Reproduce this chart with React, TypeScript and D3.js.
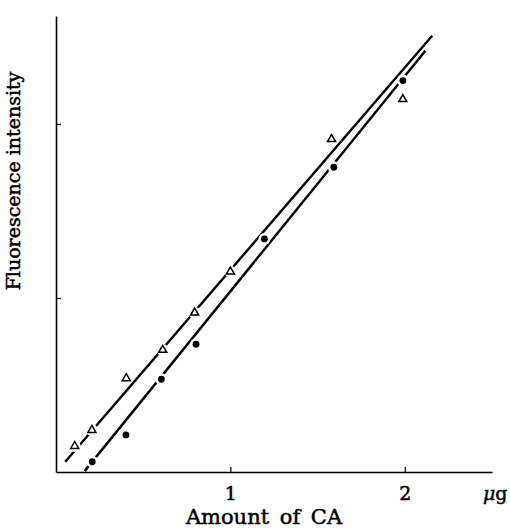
import React, { useRef, useEffect } from 'react';
import * as d3 from 'd3';

// values (x in µg, y in axis units)
const triX = [0.107, 0.206, 0.403, 0.612, 0.795, 1.0, 1.58, 1.989];
const triY = [0.149, 0.241, 0.538, 0.701, 0.915, 1.151, 1.912, 2.142];
const dotX = [0.208, 0.401, 0.604, 0.803, 1.195, 1.593, 1.989];
const dotY = [0.059, 0.213, 0.533, 0.734, 1.339, 1.751, 2.249];
// fitted lines: [start, end] as [x, y]
const triLine: [number, number][] = [[0.053, 0.059], [2.157, 2.506]];
const dotLine: [number, number][] = [[0.164, 0.005], [2.118, 2.42]];
const xTicks = [1, 2];
const yTicks = [1, 2];

const App = () => {
  const svgRef = useRef<SVGSVGElement>(null);

  useEffect(() => {
    const svg = d3.select(svgRef.current);
    svg.selectAll('*').remove();

    const x = d3.scaleLinear().domain([0, 2.5]).range([56, 492]);
    const y = d3.scaleLinear().domain([0, 2.62]).range([472, 16]);

    const font = '"DejaVu Serif", serif';

    // axes
    const xAxis = svg.append('g')
      .attr('transform', `translate(0,${y(0)})`)
      .call(d3.axisBottom(x).tickValues(xTicks).tickSizeInner(-5).tickSizeOuter(0).tickPadding(15).tickFormat(d3.format('d')));
    const yAxis = svg.append('g')
      .attr('transform', `translate(${x(0)},0)`)
      .call(d3.axisLeft(y).tickValues(yTicks).tickSizeInner(-5).tickSizeOuter(0).tickFormat(() => ''));

    [xAxis, yAxis].forEach(a => {
      a.select('.domain').attr('stroke', '#000').attr('stroke-width', 1.6);
      a.selectAll('.tick line').attr('stroke', '#000').attr('stroke-width', 1.2);
      a.selectAll('.tick text')
        .attr('fill', '#000')
        .attr('stroke', '#000')
        .attr('stroke-width', 0.5)
        .attr('font-family', font)
        .attr('font-size', 19);
    });

    const textStyle = (t: any) => t
      .attr('font-family', font)
      .attr('fill', '#000')
      .attr('stroke', '#000')
      .attr('stroke-width', 0.5);

    // unit label
    const unit = svg.append('text')
      .attr('x', 483)
      .attr('y', 500)
      .attr('font-size', 19)
      .call(textStyle);
    unit.append('tspan').attr('font-style', 'italic').text('μ');
    unit.append('tspan').text('g');

    // axis titles
    svg.append('text')
      .attr('x', 264)
      .attr('y', 524)
      .attr('text-anchor', 'middle')
      .attr('font-size', 21)
      .attr('word-spacing', 4)
      .call(textStyle)
      .text('Amount of CA');

    svg.append('text')
      .attr('transform', 'rotate(-90)')
      .attr('x', -181)
      .attr('y', 20)
      .attr('text-anchor', 'middle')
      .attr('font-size', 19)
      .call(textStyle)
      .text('Fluorescence intensity');

    // regression lines
    const line = d3.line<[number, number]>()
      .x(d => x(d[0]))
      .y(d => y(d[1]));

    [triLine, dotLine].forEach(l => {
      svg.append('path')
        .datum(l)
        .attr('fill', 'none')
        .attr('stroke', '#000')
        .attr('stroke-width', 2.4)
        .attr('d', line);
    });

    const tris = triX.map((v, i) => ({ x: v, y: triY[i] }));
    const dots = dotX.map((v, i) => ({ x: v, y: dotY[i] }));

    // white halos break the lines where the points sit
    svg.selectAll('.halo')
      .data([...tris, ...dots])
      .enter().append('circle')
      .attr('cx', d => x(d.x))
      .attr('cy', d => y(d.y))
      .attr('r', 6)
      .attr('fill', '#fff');

    svg.selectAll('.tri')
      .data(tris)
      .enter().append('path')
      .attr('transform', d => `translate(${x(d.x)},${y(d.y)})`)
      .attr('d', d3.symbol(d3.symbolTriangle, 28)())
      .attr('fill', '#fff')
      .attr('stroke', '#000')
      .attr('stroke-width', 1.5);

    svg.selectAll('.dot')
      .data(dots)
      .enter().append('circle')
      .attr('cx', d => x(d.x))
      .attr('cy', d => y(d.y))
      .attr('r', 3.4)
      .attr('fill', '#000');
  }, []);

  return (
    <svg ref={svgRef} width="510" height="528"
      style={{ position: 'absolute', left: 0, top: 0, background: '#fff' }}></svg>
  );
};

export default App;
